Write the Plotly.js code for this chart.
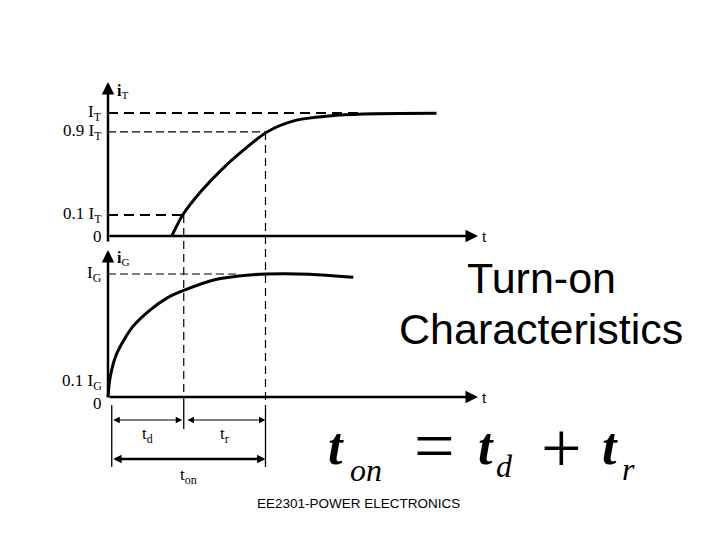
<!DOCTYPE html>
<html><head><meta charset="utf-8">
<script src="https://cdn.plot.ly/plotly-3.0.1.min.js"></script>
<style>html,body{margin:0;padding:0;background:#fff}#c{width:720px;height:540px}</style>
</head><body><div id="c"></div>
<script>
// ---- data (schematic) ----
// anode current i_T (fraction of I_T as drawn) vs time (arbitrary units)
const tAnode = [0.85, 1.0, 1.25, 1.55, 1.85, 2.12, 2.5, 2.95, 3.4, 4.38];
const iAnode = [0, 0.175, 0.37, 0.56, 0.72, 0.846, 0.94, 0.976, 0.992, 0.998];
// gate current i_G (fraction of I_G as drawn) vs time
const tGate = [0, 0.03, 0.12, 0.33, 0.56, 0.78, 1.0, 1.45, 1.89, 2.12, 2.69, 3.27];
const iGate = [0, 0.165, 0.358, 0.572, 0.707, 0.802, 0.864, 0.957, 0.992, 1.0, 0.998, 0.973];
// reference levels as drawn, and their labels
const anodeLevels = [1.0, 0.846, 0.171, 0];
const anodeLabels = ['I<sub>T</sub>', '0.9 I<sub>T</sub>', '0.1 I<sub>T</sub>', '0'];
const gateLevels = [1.0, 0.122, 0];
const gateLabels = ['I<sub>G</sub>', '0.1 I<sub>G</sub>', '0'];
// delay time and turn-on time
const tDelay = 1.01;
const tOn = 2.1;

// ---- layout helpers (pixel geometry) ----
const X0 = 108, XS = 75;          // px of t=0, px per time unit
const YT0 = 236, YG0 = 397, YS = 123;
const W = 720, H = 540;
const SERIF = 'Liberation Serif', SANS = 'Liberation Sans';
const vT = py => (YT0 - py) / YS;
const vG = py => (YG0 - py) / YS;
const tx = px => (px - X0) / XS;
const P = px => px / W, Q = py => 1 - py / H;

const traces = [
  {x: tAnode, y: iAnode, xaxis: 'x', yaxis: 'y', mode: 'lines',
   line: {color: '#000', width: 3, shape: 'spline', smoothing: 0.8}, hoverinfo: 'skip'},
  {x: tGate, y: iGate, xaxis: 'x', yaxis: 'y2', mode: 'lines',
   line: {color: '#000', width: 3, shape: 'spline', smoothing: 0.8}, hoverinfo: 'skip'}
];

const shapes = [];
const ann = [];
function hline(yref, y, x1, w, dash) {
  shapes.push({type: 'line', xref: 'x', yref: yref, x0: 0, x1: x1, y0: y, y1: y,
    line: {color: '#000', width: w, dash: dash}});
}
// reference dashed levels
hline('y', anodeLevels[0], tx(362), 2, '10px,6px');
hline('y', anodeLevels[1], tOn, 1.2, '8px,4px');
hline('y', anodeLevels[2], tDelay, 2, '10px,6px');
hline('y2', gateLevels[0], tx(238), 1.2, '8px,4px');
// vertical dashed time markers
shapes.push({type: 'line', xref: 'x', yref: 'y', x0: tDelay, x1: tDelay, y0: anodeLevels[2], y1: vT(400),
  line: {color: '#000', width: 1.2, dash: '8px,5px'}});
shapes.push({type: 'line', xref: 'x', yref: 'y', x0: tOn, x1: tOn, y0: anodeLevels[1], y1: vT(405),
  line: {color: '#000', width: 1.2, dash: '8px,5px'}});
// solid dimension ticks
const dimL = 0.05;
shapes.push({type: 'line', xref: 'x', yref: 'y2', x0: dimL, x1: dimL, y0: vG(405), y1: vG(467), line: {color: '#000', width: 1.3}});
shapes.push({type: 'line', xref: 'x', yref: 'y2', x0: tDelay, x1: tDelay, y0: vG(400), y1: vG(429), line: {color: '#000', width: 1.3}});
shapes.push({type: 'line', xref: 'x', yref: 'y2', x0: tOn, x1: tOn, y0: vG(405), y1: vG(467), line: {color: '#000', width: 1.3}});

function arrow(yref, x, y, ax, ay, w, both, size) {
  ann.push({xref: 'x', yref: yref, axref: 'x', ayref: yref, x: x, y: y, ax: ax, ay: ay, text: '',
    showarrow: true, arrowhead: 2, arrowsize: size || 1, arrowwidth: w, arrowcolor: '#000',
    arrowside: both ? 'end+start' : 'end', standoff: 0, startstandoff: 0});
}
// axes with arrows
arrow('y', 0, vT(82), 0, vT(243), 2.5);
arrow('y', tx(478), 0, 0, 0, 2.5);
arrow('y2', 0, vG(250), 0, vG(399), 2.5);
arrow('y2', tx(478), 0, 0, 0, 2.5);
// dimension arrows
arrow('y2', tDelay - 0.02, vG(420), dimL, vG(420), 1, true, 1.3);
arrow('y2', tOn, vG(420), tDelay + 0.03, vG(420), 1, true, 1.3);
arrow('y2', tOn, vG(459), dimL, vG(459), 2.4, true, 0.7);

function txt(xref, yref, x, y, text, size, opts) {
  ann.push(Object.assign({xref: xref, yref: yref, x: x, y: y, text: text, showarrow: false,
    xanchor: 'center', yanchor: 'middle',
    font: {family: SERIF, size: size, color: '#000'}}, opts || {}));
}
// level labels
anodeLevels.forEach((v, i) => txt('x', 'y', 0, v, anodeLabels[i], 17, {xanchor: 'right', xshift: -4}));
gateLevels.forEach((v, i) => txt('x', 'y2', 0, v, gateLabels[i], 17, {xanchor: 'right', xshift: -4, yshift: i === 2 ? -6 : 0}));
// axis names
txt('x', 'y', tx(115), vT(91), '<b>i</b><sub>T</sub>', 16, {xanchor: 'left'});
txt('x', 'y2', tx(115), vG(258), '<b>i</b><sub>G</sub>', 16, {xanchor: 'left'});
txt('x', 'y', tx(480), 0, 't', 15, {xanchor: 'left', font: {family: SANS, size: 15, color: '#000'}});
txt('x', 'y2', tx(480), 0, 't', 15, {xanchor: 'left', font: {family: SANS, size: 15, color: '#000'}});
// time labels
txt('x', 'y2', (dimL + tDelay) / 2, vG(435), 't<sub>d</sub>', 17);
txt('x', 'y2', (tDelay + tOn) / 2, vG(435), 't<sub>r</sub>', 17);
txt('x', 'y2', (dimL + tOn) / 2, vG(476), 't<sub>on</sub>', 17);

// slide title
const sans43 = {font: {family: SANS, size: 43, color: '#000'}};
txt('paper', 'paper', P(541), Q(278), 'Turn-on', 43, sans43);
txt('paper', 'paper', P(541), Q(329), 'Characteristics', 43, sans43);
// equation t_on = t_d + t_r
txt('paper', 'paper', P(336), Q(447), '<b><i>t</i></b>', 52);
txt('paper', 'paper', P(366), Q(470), '<i>on</i>', 32);
txt('paper', 'paper', P(434), Q(446), '=', 72);
txt('paper', 'paper', P(486), Q(447), '<b><i>t</i></b>', 52);
txt('paper', 'paper', P(505), Q(466), '<i>d</i>', 32);
txt('paper', 'paper', P(561), Q(448), '+', 72);
txt('paper', 'paper', P(610), Q(447), '<b><i>t</i></b>', 52);
txt('paper', 'paper', P(628), Q(469), '<i>r</i>', 32);
// footer
txt('paper', 'paper', P(358), Q(503), 'EE2301-POWER ELECTRONICS', 13.5, {font: {family: SANS, size: 13.5, color: '#000'}});

const layout = {
  width: W, height: H, margin: {l: 0, r: 0, t: 0, b: 0},
  paper_bgcolor: '#fff', plot_bgcolor: '#fff', showlegend: false,
  xaxis: {range: [-X0 / XS, (W - X0) / XS], domain: [0, 1], visible: false, fixedrange: true},
  yaxis: {range: [(YT0 - H) / YS, YT0 / YS], domain: [0, 1], visible: false, fixedrange: true},
  yaxis2: {range: [(YG0 - H) / YS, YG0 / YS], overlaying: 'y', visible: false, fixedrange: true},
  shapes: shapes, annotations: ann
};
Plotly.newPlot('c', traces, layout, {staticPlot: true, displayModeBar: false});
</script></body></html>
